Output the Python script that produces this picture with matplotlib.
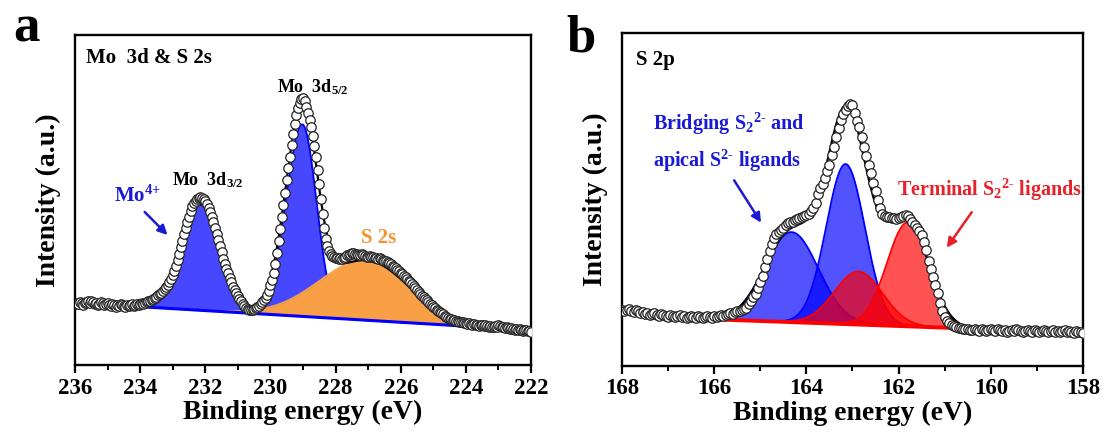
import numpy as np
import matplotlib
matplotlib.use('Agg')
import matplotlib.pyplot as plt

plt.rcParams['font.family'] = 'Liberation Serif'
plt.rcParams['font.weight'] = 'bold'
plt.rcParams['mathtext.default'] = 'regular'

# ---- Mo 3d & S 2s : raw counts, 0.05 eV steps from 236 to 222 eV
mo_range = (236.0, 222.0)
mo_counts = [
    61, 62, 61, 63, 62, 60, 62, 63, 64, 62,
    64, 63, 61, 62, 60, 61, 63, 62, 60, 61,
    62, 60, 59, 61, 60, 58, 60, 59, 61, 60,
    59, 58, 60, 59, 60, 61, 59, 60, 61, 60,
    61, 62, 61, 62, 63, 64, 64, 65, 66,
    67, 68, 70, 71, 72, 74, 76, 78, 80, 83,
    86, 90, 94, 99, 105, 111, 118, 124, 131, 137,
    143, 148, 154, 159, 162, 164, 166, 167, 168, 167,
    166, 164, 161, 157, 153, 148, 143, 137, 131, 125,
    119, 113, 106, 101, 96, 92, 87, 83, 78, 75,
    72, 69, 66, 64, 61, 59, 57, 56, 55, 55,
    55, 56, 57, 58, 59, 61, 63, 65, 67, 70,
    74, 80, 85, 92, 101, 112, 124, 136, 148, 160,
    172, 185, 197, 208, 220, 231, 241, 250, 257, 262,
    266, 267, 264, 258, 252, 245, 238, 229, 219, 208,
    195, 181, 166, 151, 137, 126, 119, 114, 111, 109,
    108, 107, 107, 106, 107, 106, 107, 108, 110, 110,
    111, 112, 112, 111, 111, 110, 110, 111, 110, 109,
    108, 108, 109, 108, 108, 107, 107, 106, 107, 106,
    105, 104, 104, 103, 102, 101, 99, 98, 97, 95,
    94, 92, 91, 89, 88, 86, 84, 83, 81, 79,
    77, 75, 73, 71, 69, 68, 66, 65, 63, 61,
    60, 58, 57, 55, 54, 53, 52, 51, 49, 48,
    47, 46, 46, 45, 45, 44, 44, 43, 43, 43,
    42, 42, 41, 42, 41, 40, 41, 40, 40, 39,
    40, 40, 39, 40, 39, 38, 39, 38, 38, 39,
    38, 40, 39, 38, 38, 37, 38, 37, 36, 37,
    36, 35, 36, 35, 36, 35, 34, 35, 35, 34,
    34, 33,
]
# fitted peaks: centre (eV), height, width on high-BE side, width on low-BE side
mo_names = ['Mo 3d3/2', 'Mo 3d5/2', 'S 2s']
mo_centers = [232.14, 229.02, 227.05]
mo_heights = [106, 192, 60]
mo_w_high = [0.55, 0.50, 1.45]
mo_w_low = [0.55, 0.43, 1.30]
mo_bg_be = [234.1, 222.8]
mo_bg_int = [58.5, 36.5]

# ---- S 2p : raw counts, 0.05 eV steps from 168 to 158 eV
s_range = (168.0, 158.0)
s_counts = [
    56, 55, 56, 57, 55, 54, 56, 55, 53, 54,
    52, 53, 51, 52, 53, 51, 50, 52, 51, 50,
    49, 51, 50, 49, 50, 51, 49, 50, 48, 49,
    50, 49, 48, 50, 49, 48, 49, 50, 49, 48,
    50,
    49, 50, 51, 50, 51, 52, 53, 52, 54, 55,
    55, 56, 57, 58, 62, 65, 69, 72, 78, 84,
    90, 99, 107, 115, 122, 128, 132, 134, 136, 138,
    141, 143, 144, 144, 146, 147, 148, 149, 150, 151,
    152, 155, 158, 163, 172, 178, 182, 188, 195, 201,
    211, 219, 229, 238, 246, 252, 256, 260, 262, 261,
    253, 245, 239, 229, 219, 210, 201, 193, 183, 175,
    166, 158, 152, 150, 149, 149, 148, 148, 147, 148,
    149, 150, 151, 150, 147, 144, 141, 138, 135, 131,
    124, 116, 105, 97, 89, 81, 73, 63, 55, 49,
    45, 43, 41, 40, 39, 38, 38, 37, 37, 37,
    36, 36, 37, 36, 35, 37, 36, 35, 36, 37,
    36, 35, 37, 36, 35, 36, 34, 35, 36, 35,
    37, 36, 35, 34, 35, 36, 35, 34, 36, 35,
    34, 35, 36, 35, 34, 35, 36, 34, 35, 34,
    35, 36, 34, 35, 34, 33, 35, 34, 34, 33,
]
s_names = ['bridging 1', 'bridging 2', 'terminal 1', 'terminal 2']
s_centers = [164.32, 163.15, 162.87, 161.80]
s_heights = [90, 160, 53, 104]
s_w_high = [0.58, 0.42, 0.52, 0.45]
s_w_low = [0.58, 0.42, 0.52, 0.45]
s_bg_be = [166.2, 160.2]
s_bg_int = [47, 37]

HY = '\u2010'  # plain hyphen for the charge signs


def component(be, center, height, w_high, w_low):
    # split Gaussian, separate widths either side of the centre
    w = np.where(be >= center, w_high, w_low)
    return height * np.exp(-0.5 * ((be - center) / w) ** 2)


def draw_fit(ax, counts, be_range, centers, heights, w_high, w_low,
             bg_be, bg_int, faces, edges, alphas, bg_color, bg_lw):
    be = np.linspace(be_range[0], be_range[1], len(counts))
    fit_be = np.linspace(bg_be[0], bg_be[1], 800)
    slope = (bg_int[1] - bg_int[0]) / (bg_be[1] - bg_be[0])
    bg = bg_int[0] + (fit_be - bg_be[0]) * slope

    total = bg.copy()
    for i in range(len(centers)):
        peak = component(fit_be, centers[i], heights[i], w_high[i], w_low[i])
        total += peak
        ax.fill_between(fit_be, bg, bg + peak, color=faces[i],
                        alpha=alphas[i], lw=0, zorder=2 + i * 0.1)
        ax.plot(fit_be, bg + peak, color=edges[i], lw=1.3, zorder=2.05 + i * 0.1)
    ax.plot(fit_be, bg, color=bg_color, lw=bg_lw, zorder=3)
    ax.plot(fit_be, total, color='black', lw=1.6, zorder=4)
    ax.plot(be, counts, 'o', mfc='white', mec='#222222', ms=6.8, mew=0.9, zorder=5)


def style_axes(ax, xmin, xmax, ymax):
    ax.set_xlim(xmin, xmax)
    ax.set_ylim(0, ymax)
    ax.set_xticks(np.arange(xmin, xmax - 0.1, -2))
    ax.set_xticks(np.arange(xmin - 1, xmax, -2), minor=True)
    ax.set_yticks([])
    ax.tick_params(axis='x', which='major', direction='out', length=6, width=1.6,
                   labelsize=16.5, pad=3, top=False)
    ax.tick_params(axis='x', which='minor', direction='out', length=3.5, width=1.4,
                   top=False)
    for sp in ax.spines.values():
        sp.set_linewidth(1.7)
    ax.set_xlabel('Binding energy (eV)', fontsize=20, fontweight='bold', labelpad=1)
    ax.set_ylabel('Intensity (a.u.)', fontsize=20, fontweight='bold', labelpad=10)


fig = plt.figure(figsize=(11.04, 4.32), dpi=100)
ax1 = fig.add_axes([75 / 1104, 67 / 432, 456 / 1104, 330 / 432])
ax2 = fig.add_axes([622 / 1104, 66 / 432, 461 / 1104, 333 / 432])

blue_txt = '#1a1ad6'
red_txt = '#e8202a'

# panel a
draw_fit(ax1, mo_counts, mo_range, mo_centers, mo_heights, mo_w_high, mo_w_low,
         mo_bg_be, mo_bg_int,
         faces=['#0000ff', '#0000ff', '#f9a046'],
         edges=['#0000ff', '#0000ff', '#f9a046'],
         alphas=[0.72, 0.72, 1.0], bg_color='#0000ff', bg_lw=2.2)
style_axes(ax1, 236, 222, 330)
ax1.text(0.024, 0.93, 'Mo  3d & S 2s', transform=ax1.transAxes, fontsize=15,
         ha='left', va='center')
ax1.text(228.69, 278, r'Mo  3d$_{5/2}$', fontsize=13, ha='center', va='center')
ax1.text(231.93, 185, r'Mo  3d$_{3/2}$', fontsize=13, ha='center', va='center')
ax1.text(234.08, 169, r'Mo$^{4{+}}$', fontsize=15, color=blue_txt, ha='center', va='center')
ax1.annotate('', xy=(233.10, 128), xytext=(233.92, 155),
             arrowprops=dict(arrowstyle='-|>', color=blue_txt, lw=1.8, mutation_scale=14))
ax1.text(226.69, 127, 'S 2s', fontsize=15, color='#f5932f', ha='center', va='center')

# panel b
draw_fit(ax2, s_counts, s_range, s_centers, s_heights, s_w_high, s_w_low,
         s_bg_be, s_bg_int,
         faces=['#0000ff', '#0000ff', '#ff0000', '#ff0000'],
         edges=['#0000ff', '#0000ff', '#ff0000', '#ff0000'],
         alphas=[0.68, 0.68, 0.68, 0.68], bg_color='#ff0000', bg_lw=2.8)
style_axes(ax2, 168, 158, 333)
ax2.text(0.03, 0.919, 'S 2p', transform=ax2.transAxes, fontsize=15,
         ha='left', va='center')
ax2.text(167.33, 242, 'Bridging S$_2$$^{2' + HY + '}$ and', fontsize=14.5,
         color=blue_txt, ha='left', va='center')
ax2.text(167.33, 205, 'apical S$^{2' + HY + '}$ ligands', fontsize=14.5,
         color=blue_txt, ha='left', va='center')
ax2.annotate('', xy=(164.95, 141), xytext=(165.6, 188),
             arrowprops=dict(arrowstyle='-|>', color=blue_txt, lw=1.8, mutation_scale=14))
ax2.text(162.04, 176, 'Terminal S$_2$$^{2' + HY + '}$ ligands', fontsize=14.5,
         color=red_txt, ha='left', va='center')
ax2.annotate('', xy=(160.99, 116), xytext=(160.38, 156),
             arrowprops=dict(arrowstyle='-|>', color=red_txt, lw=1.8, mutation_scale=14))

fig.text(13 / 1104, 1 - 42 / 432, 'a', fontsize=38, fontweight='bold', va='baseline')
fig.text(566 / 1104, 1 - 52 / 432, 'b', fontsize=38, fontweight='bold', va='baseline')

fig.savefig('out.png', dpi=100)
